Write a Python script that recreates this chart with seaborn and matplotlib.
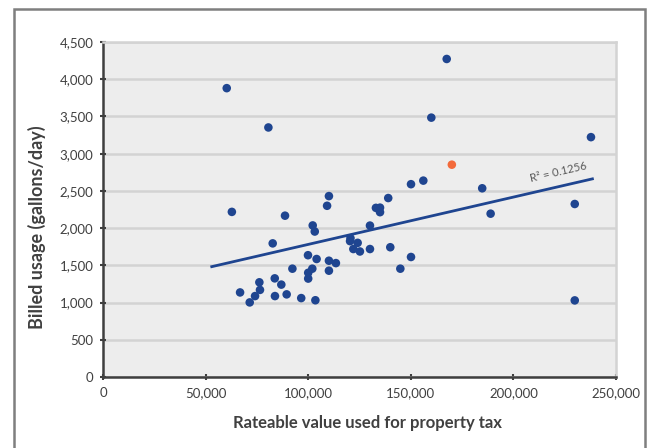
import numpy as np
import pandas as pd
import matplotlib
matplotlib.use("Agg")
import matplotlib.pyplot as plt
import seaborn as sns

# values
rateable_value = [60300, 167500, 80600, 160000, 237800, 156100, 150100, 184800,
                  110100, 139000, 109200, 133000, 135000, 135000, 62800, 88700,
                  229900, 188900, 102200, 130100, 103200, 82700, 120600, 120400,
                  124100, 122000, 125200, 130100, 140000, 99900, 104100, 110100,
                  113500, 92300, 102000, 144900, 150100, 110100, 100000, 100000,
                  83700, 76200, 86900, 76500, 66800, 74100, 83800, 89500,
                  96600, 103500, 71500, 229900]
billed_usage = [3880, 4272, 3352, 3484, 3222, 2638, 2590, 2535,
                2430, 2404, 2300, 2272, 2275, 2214, 2218, 2167,
                2324, 2194, 2036, 2034, 1954, 1795, 1865, 1825,
                1802, 1719, 1686, 1719, 1743, 1636, 1585, 1562,
                1530, 1455, 1455, 1455, 1612, 1428, 1400, 1322,
                1325, 1272, 1241, 1170, 1136, 1087, 1087, 1110,
                1060, 1031, 1002, 1029]
highlight_x = [170000]
highlight_y = [2852]
r_squared_label = "R² = 0.1256"
trend_start, trend_end = 53000, 238500

df = pd.DataFrame({"value": rateable_value, "usage": billed_usage})

blue = "#1F4590"
orange = "#F36A3B"

plt.rcParams["font.family"] = ["Lato", "DejaVu Sans"]
fig = plt.figure(figsize=(6.49, 4.48), dpi=100)
ax = fig.add_axes([103 / 649, 71 / 448, 513 / 649, 335 / 448])

ax.set_facecolor("#EDEDED")
sns.scatterplot(data=df, x="value", y="usage", color=blue, s=38,
                edgecolor="none", ax=ax, zorder=3)
sns.scatterplot(x=highlight_x, y=highlight_y, color=orange, s=38,
                edgecolor="none", ax=ax, zorder=3)

# linear trend line
slope, intercept = np.polyfit(df["value"], df["usage"], 1)
tx = np.array([trend_start, trend_end])
sns.lineplot(x=tx, y=slope * tx + intercept, color=blue, lw=2, ax=ax, zorder=4)
ax.text(222000, 2750, r_squared_label, rotation=13, fontsize=8,
        color="#595959", ha="center", va="center")

ax.set_xlim(0, 250000)
ax.set_ylim(0, 4500)
ax.set_xticks(range(0, 250001, 50000))
ax.set_yticks(range(0, 4501, 500))
ax.xaxis.set_major_formatter(matplotlib.ticker.StrMethodFormatter("{x:,.0f}"))
ax.yaxis.set_major_formatter(matplotlib.ticker.StrMethodFormatter("{x:,.0f}"))
ax.grid(axis="y", color="#D3D3D3", lw=1.8)
ax.set_axisbelow(True)
for side in ["top", "right"]:
    ax.spines[side].set_color("#D3D3D3")
    ax.spines[side].set_linewidth(1.8)
for side in ["left", "bottom"]:
    ax.spines[side].set_color("#3F3F3F")
    ax.spines[side].set_linewidth(1.8)
ax.tick_params(colors="#3F3F3F", labelsize=9.5, length=4, width=1.5,
               direction="inout", pad=5)
for lab in ax.get_xticklabels() + ax.get_yticklabels():
    lab.set_color("#404040")

ax.set_xlabel("Rateable value used for property tax", fontsize=12,
              fontweight="bold", color="#404040")
ax.set_ylabel("Billed usage (gallons/day)", fontsize=13,
              fontweight="bold", color="#404040")
ax.xaxis.set_label_coords(0.515, -0.112)
ax.yaxis.set_label_coords(-0.112, 0.447)

# outer frame of the exhibit
frame = plt.Rectangle((14 / 649, -0.05), 631 / 649, 1.05 - 9 / 448,
                      transform=fig.transFigure, fill=False,
                      edgecolor="#7F7F7F", lw=1.8)
fig.patches.append(frame)

fig.savefig("out.png", dpi=100)
